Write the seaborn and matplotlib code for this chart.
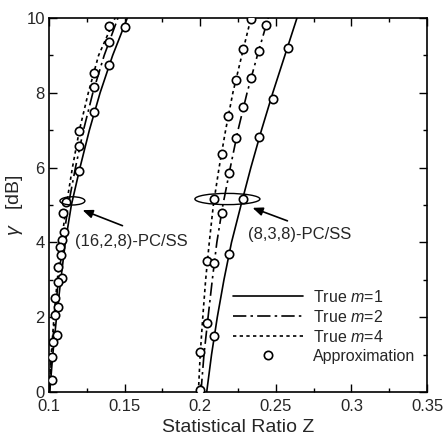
import numpy as np
import matplotlib
matplotlib.use("Agg")
import matplotlib.pyplot as plt
import seaborn as sns
from matplotlib.patches import Ellipse
from matplotlib.lines import Line2D
from matplotlib.ticker import MultipleLocator

# gamma grid for the exact curves [dB]
gamma = [0, 1, 2, 3, 4, 5, 6, 7, 8, 9, 10]

# (16,2,8)-PC/SS exact curves, statistical ratio Z
z16_m1 = [0.1005, 0.1025, 0.1050, 0.1078, 0.1108, 0.1148, 0.1205, 0.1267, 0.1338, 0.1421, 0.1518]
z16_m2 = [0.1002, 0.1018, 0.1038, 0.1062, 0.1092, 0.1128, 0.1175, 0.1228, 0.1290, 0.1365, 0.1456]
z16_m4 = [0.1000, 0.1015, 0.1033, 0.1055, 0.1082, 0.1115, 0.1155, 0.1201, 0.1260, 0.1328, 0.1437]

# (8,3,8)-PC/SS exact curves
z8_m1 = [0.2043, 0.2075, 0.2113, 0.2157, 0.2207, 0.2270, 0.2335, 0.2405, 0.2480, 0.2560, 0.2640]
z8_m2 = [0.2005, 0.2025, 0.2052, 0.2080, 0.2110, 0.2150, 0.2199, 0.2250, 0.2310, 0.2378, 0.2450]
z8_m4 = [0.1988, 0.2000, 0.2017, 0.2036, 0.2060, 0.2087, 0.2125, 0.2168, 0.2216, 0.2275, 0.2336]

# approximation points (Z, gamma)
ap16_z = [0.1500, 0.1400, 0.1400, 0.1400, 0.1300, 0.1300, 0.1300, 0.1200, 0.1200, 0.1200,
          0.1110, 0.1095, 0.1100, 0.1084, 0.1073, 0.1077, 0.1058, 0.1088, 0.1058, 0.1040,
          0.1062, 0.1040, 0.1051, 0.1028, 0.1022, 0.1022]
ap16_g = [9.77, 9.79, 9.37, 8.74, 8.54, 8.15, 7.49, 6.98, 6.58, 5.92,
          5.09, 4.78, 4.29, 4.06, 3.89, 3.66, 3.33, 3.04, 2.95, 2.51,
          2.28, 2.06, 1.52, 1.34, 0.94, 0.32]

ap8_z = [0.2334, 0.2281, 0.2235, 0.2186, 0.2142, 0.2091, 0.2047, 0.2000,
         0.2435, 0.2389, 0.2336, 0.2281, 0.2239, 0.2192, 0.2146, 0.2091, 0.2047, 0.2000,
         0.2583, 0.2483, 0.2389, 0.2285, 0.2190, 0.2091]
ap8_g = [9.97, 9.16, 8.34, 7.39, 6.36, 5.15, 3.51, 1.06,
         9.81, 9.13, 8.39, 7.61, 6.80, 5.85, 4.78, 3.46, 1.84, 0.05,
         9.21, 7.83, 6.83, 5.16, 3.68, 1.50]

sns.set_style("ticks")
plt.rcParams['font.family'] = ['Liberation Sans', 'DejaVu Sans']
plt.rcParams['mathtext.fontset'] = 'custom'
plt.rcParams['mathtext.it'] = 'Liberation Sans:italic'
plt.rcParams['mathtext.rm'] = 'Liberation Sans'

fig = plt.figure(figsize=(4.47, 4.40), dpi=100)
ax = fig.add_axes([0.1096, 0.1091, 0.8457, 0.8500])

dash_dot = (8, 2.5, 1.5, 2.5)
dotted = (2, 2)
for z1, z2, z4 in [(z16_m1, z16_m2, z16_m4), (z8_m1, z8_m2, z8_m4)]:
    sns.lineplot(x=z1, y=gamma, sort=False, estimator=None, color="black", lw=1.2, ax=ax)
    sns.lineplot(x=z2, y=gamma, sort=False, estimator=None, color="black", lw=1.2, ax=ax)
    ax.lines[-1].set_dashes(dash_dot)
    sns.lineplot(x=z4, y=gamma, sort=False, estimator=None, color="black", lw=1.2, ax=ax)
    ax.lines[-1].set_dashes(dotted)

for zz, gg in [(ap16_z, ap16_g), (ap8_z, ap8_g)]:
    sns.scatterplot(x=zz, y=gg, marker="o", s=36, facecolor="white",
                    edgecolor="black", linewidth=1.2, zorder=3, ax=ax)

# ellipses marking each code
ax.add_patch(Ellipse((0.1155, 5.11), 0.0165, 0.22, fill=False, ec="black", lw=1.0, zorder=4))
ax.add_patch(Ellipse((0.2180, 5.16), 0.043, 0.30, fill=False, ec="black", lw=1.0, zorder=4))

arrow = dict(arrowstyle="-|>,head_length=0.6,head_width=0.25", color="black", lw=1.2)
ax.annotate("", xy=(0.1205, 4.89), xytext=(0.1503, 4.42), arrowprops=arrow)
ax.annotate("", xy=(0.2329, 4.95), xytext=(0.2594, 4.55), arrowprops=arrow)
ax.text(0.1172, 4.02, "(16,2,8)-PC/SS", fontsize=12, va="center", ha="left")
ax.text(0.2318, 4.20, "(8,3,8)-PC/SS", fontsize=12, va="center", ha="left")

ax.set_xlim(0.1, 0.35)
ax.set_ylim(0, 10)
ax.xaxis.set_major_locator(MultipleLocator(0.05))
ax.xaxis.set_minor_locator(MultipleLocator(0.025))
ax.yaxis.set_major_locator(MultipleLocator(2))
ax.yaxis.set_minor_locator(MultipleLocator(1))
ax.set_xticks([0.1, 0.15, 0.2, 0.25, 0.3, 0.35], ["0.1", "0.15", "0.2", "0.25", "0.3", "0.35"])
ax.tick_params(which="both", direction="in", top=True, right=True, labelsize=12, color="black", width=1.0)
ax.tick_params(which="major", length=6)
ax.tick_params(which="minor", length=3)
ax.tick_params(axis="x", which="major", pad=5)
ax.tick_params(axis="y", which="major", pad=3)
for s in ax.spines.values():
    s.set_linewidth(1.2)
    s.set_color("black")

ax.set_xlabel("Statistical Ratio Z", fontsize=14, labelpad=4)
ax.set_ylabel(r"$\gamma$   [dB]", fontsize=14, labelpad=1)

handles = [
    Line2D([], [], color="black", lw=1.2),
    Line2D([], [], color="black", lw=1.2, dashes=dash_dot),
    Line2D([], [], color="black", lw=1.2, dashes=dotted),
    Line2D([], [], ls="none", marker="o", ms=6, mfc="white", mec="black", mew=1.2),
]
labels = ["True $m$=1", "True $m$=2", "True $m$=4", "Approximation"]
ax.legend(handles, labels, loc="lower left", bbox_to_anchor=(0.487, 0.075),
          frameon=False, fontsize=11.5, handlelength=4.4, handletextpad=0.6,
          labelspacing=0.25, borderpad=0, borderaxespad=0)

fig.savefig("out.png", dpi=100)
